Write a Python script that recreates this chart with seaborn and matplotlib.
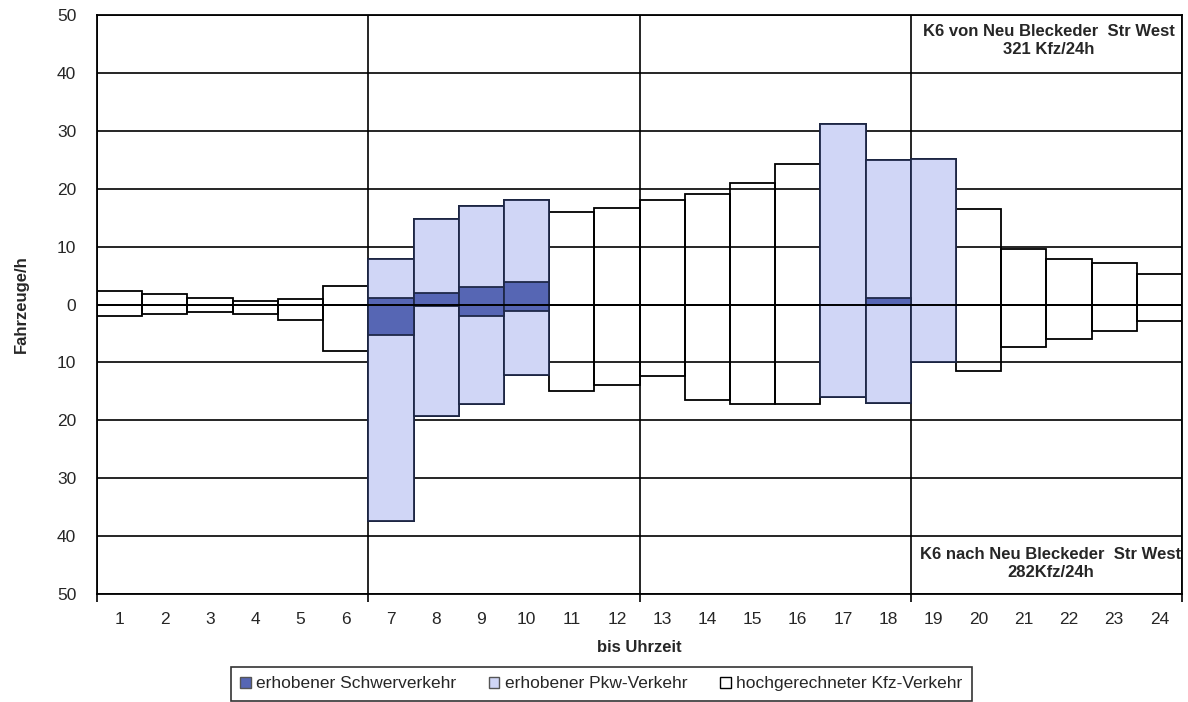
"""
Stundenganglinie K6 / Neu Bleckeder Str West, both directions.
"""
import matplotlib
matplotlib.use('Agg')
import matplotlib.pyplot as plt
from matplotlib.patches import Patch
import seaborn as sns

hours = list(range(1, 25))
# hochgerechneter Kfz-Verkehr, upper = von, lower = nach (shown as positive)
kfz_von = [2.4, 1.85, 1.15, 0.6, 0.9, 3.2, 7.9, 14.8, 17.0, 18.0, 16.0, 16.7,
           18.1, 19.1, 21.0, 24.3, 31.1, 25.0, 25.1, 16.5, 9.6, 7.8, 7.2, 5.2]
kfz_nach = [1.9, 1.6, 1.3, 1.7, 2.65, 8.0, 37.4, 19.2, 17.1, 12.1, 14.9, 13.9,
            12.3, 16.5, 17.2, 17.2, 16.0, 17.0, 10.0, 11.5, 7.3, 5.9, 4.5, 2.9]
# erhobener Pkw-Verkehr (measured hours only)
pkw_hours = [7, 8, 9, 10, 17, 18, 19]
pkw_von = [7.9, 14.8, 17.0, 18.0, 31.1, 25.0, 25.1]
pkw_nach = [37.4, 19.2, 17.1, 12.1, 16.0, 17.0, 10.0]
# erhobener Schwerverkehr
sv_hours = [7, 8, 9, 10, 18]
sv_von = [1.1, 2.0, 3.0, 3.9, 1.1]
sv_nach = [5.2, 0.2, 2.0, 1.2, 0.0]

light = "#d0d6f6"
dark = "#5666b4"
navy = "#1e2848"

sns.set_theme(style="white")
plt.rcParams['font.family'] = ['Liberation Sans', 'DejaVu Sans']

fig = plt.figure(figsize=(11.88, 7.02), dpi=100)
ax = fig.add_axes([0.0817, 0.1538, 0.9133, 0.8248])

lw = 1.3
sns.barplot(x=hours, y=kfz_von, order=hours, fill=False, color="black",
            width=1, linewidth=lw, errorbar=None, ax=ax, zorder=3)
sns.barplot(x=hours, y=[-v for v in kfz_nach], order=hours, fill=False,
            color="black", width=1, linewidth=lw, errorbar=None, ax=ax, zorder=3)
sns.barplot(x=pkw_hours, y=pkw_von, order=hours, color=light, saturation=1,
            edgecolor=navy, width=1, linewidth=lw, errorbar=None, ax=ax, zorder=4)
sns.barplot(x=pkw_hours, y=[-v for v in pkw_nach], order=hours, color=light,
            saturation=1, edgecolor=navy, width=1, linewidth=lw,
            errorbar=None, ax=ax, zorder=4)
sns.barplot(x=sv_hours, y=sv_von, order=hours, color=dark, saturation=1,
            edgecolor=navy, width=1, linewidth=lw, errorbar=None, ax=ax, zorder=5)
sns.barplot(x=sv_hours, y=[-v for v in sv_nach], order=hours, color=dark,
            saturation=1, edgecolor=navy, width=1, linewidth=lw,
            errorbar=None, ax=ax, zorder=5)
ax.axhline(0, color="black", lw=lw, zorder=6)

ax.set_xlim(-0.5, 23.5)
ax.set_ylim(-50, 50)
ax.set_yticks(range(-50, 51, 10))
ax.set_yticklabels([str(abs(v)) for v in range(-50, 51, 10)], fontsize=12.5)
ax.set_xticks(range(24))
ax.set_xticklabels([str(h) for h in hours], fontsize=12.5)
ax.set_xticks([-0.5, 5.5, 11.5, 17.5, 23.5], minor=True)
ax.tick_params(axis='x', which='major', length=0, pad=13)
ax.tick_params(axis='x', which='minor', length=6, width=1.2, color="black",
               direction="out", bottom=True)
ax.tick_params(axis='y', length=0, pad=15)
ax.set_axisbelow(True)
ax.yaxis.grid(True, color="black", lw=1.2)
ax.xaxis.grid(True, which='minor', color="black", lw=1.2)
ax.xaxis.grid(False, which='major')
for s in ax.spines.values():
    s.set_color("black")
    s.set_linewidth(1.3)

ax.set_ylabel("Fahrzeuge/h", fontsize=12, fontweight="bold", labelpad=20)
ax.set_xlabel("bis Uhrzeit", fontsize=12, fontweight="bold", labelpad=9)

ax.text(20.55, 45.6, "K6 von Neu Bleckeder  Str West\n321 Kfz/24h", ha="center",
        va="center", fontsize=12, fontweight="bold", linespacing=1.25)
ax.text(20.6, -44.8, "K6 nach Neu Bleckeder  Str West\n282Kfz/24h", ha="center",
        va="center", fontsize=12, fontweight="bold", linespacing=1.25)

handles = [Patch(facecolor=dark, edgecolor="#555555", label="erhobener Schwerverkehr"),
           Patch(facecolor=light, edgecolor="#555555", label="erhobener Pkw-Verkehr"),
           Patch(facecolor="white", edgecolor="black", label="hochgerechneter Kfz-Verkehr")]
leg = fig.legend(handles=handles, loc="upper center", bbox_to_anchor=(0.506, 0.05),
                 ncol=3, frameon=True, fancybox=False,
                 handlelength=0.6, handleheight=0.6, handletextpad=0.3,
                 columnspacing=1.9, borderpad=0.55, borderaxespad=0,
                 edgecolor="black", prop={'size': 12.5})
leg.get_frame().set_linewidth(1.2)

fig.savefig("out.png", dpi=100, facecolor="white")
